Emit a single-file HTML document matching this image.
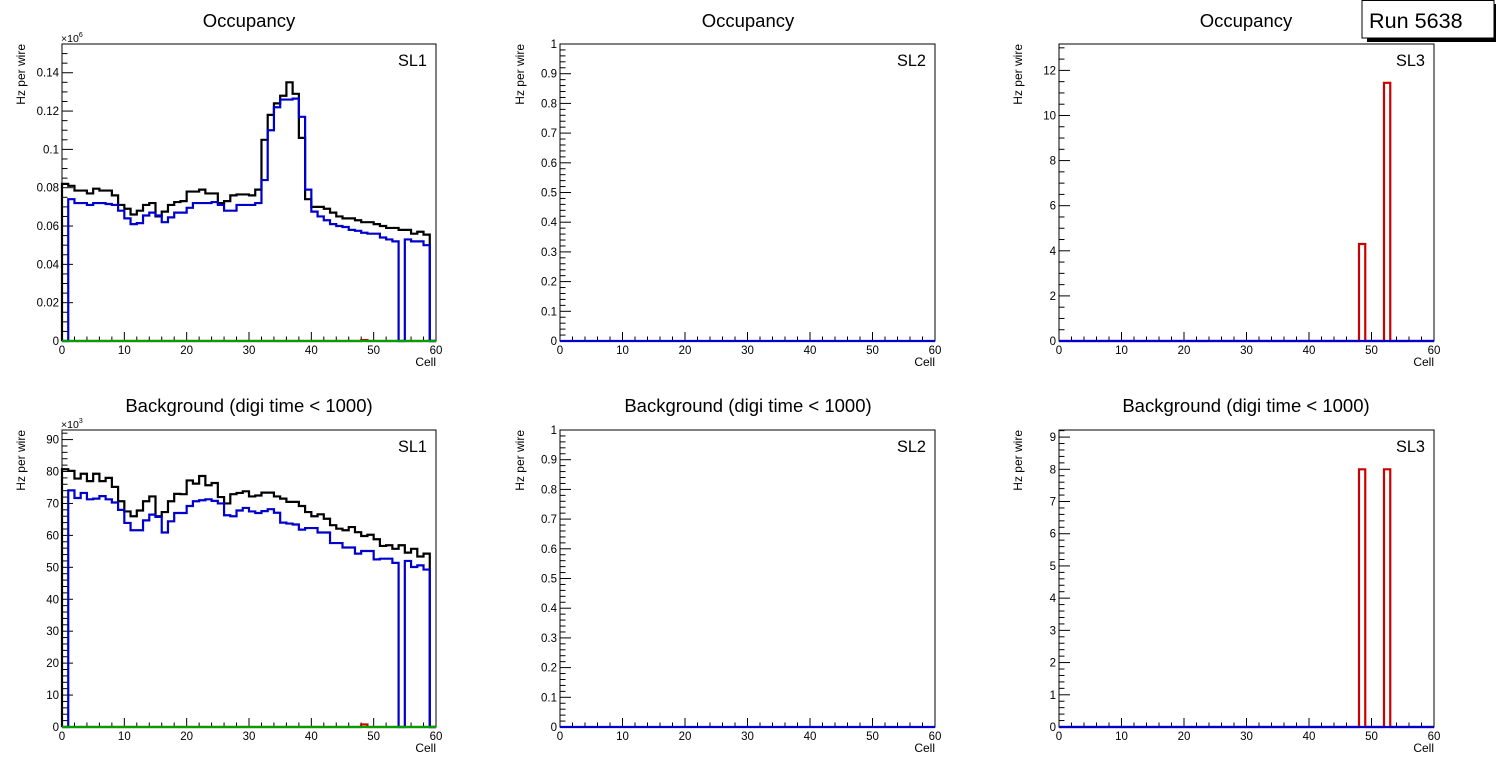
<!DOCTYPE html>
<html><head><meta charset="utf-8"><style>
html,body{margin:0;padding:0;background:#fff;}
svg{display:block;font-family:"Liberation Sans",Arial,sans-serif;}
</style></head><body>
<svg id="c" width="1496" height="772" viewBox="0 0 1496 772" xmlns="http://www.w3.org/2000/svg"></svg>
<script>
// ---- data (60 cells each) ----
const occSL1Black = [82,81,78.5,78.5,77,79.5,78.5,78.5,76,71,69,66,68,71,72,65,67.5,71,72.5,73,78,78,79,77,77,72,73,76,76.5,76.5,76,79,105,118,124,128,135,129,106,74,70,70,69,67,65,64,64,63,62,62,61,60,59,59,58,58,56,57,55.5,0];
const occSL1Blue = [0,74,72,72,71,72,72,71.5,71,68,64,61,61.5,65.5,67,65.5,62,64.5,67,67,69.5,72,72,72,72.5,71,68,68,71,71,71,72,84,110,122,126,126,126.5,117,79,67.5,65,63,61,60,59.5,58,57.5,56.5,56,56,54,53,52,0,53,52,52,50,0];
const occSL1Green = new Array(60).fill(0);
const occSL1Red = [0,0,0,0,0,0,0,0,0,0,0,0,0,0,0,0,0,0,0,0,0,0,0,0,0,0,0,0,0,0,0,0,0,0,0,0,0,0,0,0,0,0,0,0,0,0,0,0,0.5,0,0,0,0,0,0,0,0,0,0,0];
const bkgSL1Black = [80.7,80.2,77.8,79.3,77,79.3,77,78,75.2,70.7,67.5,66,67.8,70.7,72.2,66,67.3,70.7,73,72.9,77.2,76.2,78.6,75.7,76.4,72,70,72.9,73.3,73.8,72.2,72.5,73.4,73.4,72.2,71.5,70.5,70.5,69.2,67.3,66,66.6,65.2,63.2,62.1,61.6,62.6,61,59.8,60.2,58.8,56.7,56.9,55.8,56.9,54.6,55.8,53.4,54.3,0];
const bkgSL1Blue = [0,74.1,71.7,73.3,71.3,71.5,72.3,71.3,70.3,68,63.9,61.6,61.6,64.7,66.5,65.8,60.9,64.4,67,67,69.2,70.7,71,71.3,70.8,70,66.3,66,67.8,68.6,67.5,67,67.6,68.2,67.1,64,63.7,63.4,61.8,62.3,62.3,60.9,60.9,57.6,57.6,56.2,56.2,54.3,55.1,55.1,52.5,52.7,52.7,51.4,0,52,50.1,50.6,49.3,0];
const bkgSL1Green = new Array(60).fill(0);
const bkgSL1Red = [0,0,0,0,0,0,0,0,0,0,0,0,0,0,0,0,0,0,0,0,0,0,0,0,0,0,0,0,0,0,0,0,0,0,0,0,0,0,0,0,0,0,0,0,0,0,0,0,0.8,0,0,0,0,0,0,0,0,0,0,0];
const sl2Blue = new Array(60).fill(0);
const occSL3Red = [0,0,0,0,0,0,0,0,0,0,0,0,0,0,0,0,0,0,0,0,0,0,0,0,0,0,0,0,0,0,0,0,0,0,0,0,0,0,0,0,0,0,0,0,0,0,0,0,4.3,0,0,0,11.45,0,0,0,0,0,0,0];
const bkgSL3Red = [0,0,0,0,0,0,0,0,0,0,0,0,0,0,0,0,0,0,0,0,0,0,0,0,0,0,0,0,0,0,0,0,0,0,0,0,0,0,0,0,0,0,0,0,0,0,0,0,8,0,0,0,8,0,0,0,0,0,0,0];
const sl3Blue = new Array(60).fill(0);
const xTickVals = [0,10,20,30,40,50,60];
const xTickLabels = ["0","10","20","30","40","50","60"];
const occSL1TickVals = [0,20,40,60,80,100,120,140];
const occSL1TickLabels = ["0","0.02","0.04","0.06","0.08","0.1","0.12","0.14"];
const bkgSL1TickVals = [0,10,20,30,40,50,60,70,80,90];
const bkgSL1TickLabels = ["0","10","20","30","40","50","60","70","80","90"];
const sl2TickVals = [0,0.1,0.2,0.3,0.4,0.5,0.6,0.7,0.8,0.9,1];
const sl2TickLabels = ["0","0.1","0.2","0.3","0.4","0.5","0.6","0.7","0.8","0.9","1"];
const occSL3TickVals = [0,2,4,6,8,10,12];
const occSL3TickLabels = ["0","2","4","6","8","10","12"];
const bkgSL3TickVals = [0,1,2,3,4,5,6,7,8,9];
const bkgSL3TickLabels = ["0","1","2","3","4","5","6","7","8","9"];

const NS = "http://www.w3.org/2000/svg";
const svg = document.getElementById('c');
function mk(tag, attrs, parent, text){
  const e = document.createElementNS(NS, tag);
  for (const k in attrs) e.setAttribute(k, attrs[k]);
  if (text !== undefined) e.textContent = text;
  (parent || svg).appendChild(e);
  return e;
}

const COLS = [{x0:62,x1:436,px:0},{x0:560,x1:935,px:499},{x0:1059,x1:1434,px:997}];
const ROWS = [{yt:44,yb:341,py:0,title:"Occupancy",tb:27},{yt:430,yb:727,py:386,title:"Background (digi time < 1000)",tb:412}];

function drawPad(ci, ri, cfg){
  const C = COLS[ci], R = ROWS[ri];
  const g = mk('g', {});
  
  
  const xs = v => C.x0 + v/60*(C.x1-C.x0);
  const ys = v => R.yb - v/cfg.ymax*(R.yb-R.yt);
  const t = mk('text', {x:(C.px+249), y:R.tb, 'text-anchor':'middle', 'font-size':'18.5'}, g, R.title);
  
  
  const fr = mk('rect', {x:C.x0, y:R.yt, width:C.x1-C.x0, height:R.yb-R.yt, fill:'none', stroke:'#000', 'stroke-width':'1'}, g);
  
  
  for (let v=0; v<=60; v+=2){
    const major = v%10===0;
    mk('line', {x1:xs(v), x2:xs(v), y1:R.yb, y2:R.yb-(major?9:4.5), stroke:'#000', 'stroke-width':'1'}, g);
  }
  xTickVals.forEach((v,i) => {
    const l = mk('text', {x:xs(v), y:R.yb+13, 'text-anchor':'middle', 'font-size':'11.5'}, g, xTickLabels[i]);
    
    
  });
  const nMinor = Math.round(cfg.ymax/cfg.minor);
  for (let k=0; k<=nMinor; k++){
    const v = k*cfg.minor;
    if (v > cfg.ymax) break;
    const rem = Math.abs(v/cfg.major - Math.round(v/cfg.major));
    const major = rem < 1e-6;
    mk('line', {x1:C.x0, x2:C.x0+(major?11:5.5), y1:ys(v), y2:ys(v), stroke:'#000', 'stroke-width':'1'}, g);
  }
  cfg.tickVals.forEach((v,i) => {
    const l = mk('text', {x:C.x0-3, y:ys(v)+4, 'text-anchor':'end', 'font-size':'11.5'}, g, cfg.tickLabels[i]);
    
    
  });
  cfg.series.forEach(s => {
    let d = 'M' + xs(0) + ',' + ys(0);
    s.vals.forEach((v,i) => {
      const vv = Math.min(v, cfg.ymax);
      d += ' L' + xs(i) + ',' + ys(vv) + ' L' + xs(i+1) + ',' + ys(vv);
    });
    d += ' L' + xs(60) + ',' + ys(0);
    const p = mk('path', {d:d, fill:'none', stroke:s.color, 'stroke-width':'2.2', 'stroke-linejoin':'miter'}, g);
    
    
  });
  const xt = mk('text', {x:C.x1, y:R.yb+25, 'text-anchor':'end', 'font-size':'12'}, g, 'Cell');
  
  
  const yx = C.px+25;
  const yt = mk('text', {x:yx, y:R.yt, 'text-anchor':'end', 'font-size':'12', transform:'rotate(-90 '+yx+' '+R.yt+')'}, g, 'Hz per wire');
  
  
  const sl = mk('text', {x:C.x1-9, y:R.yt+22, 'text-anchor':'end', 'font-size':'16.3'}, g, cfg.sl);
  
  
  if (cfg.exp){
    const ex = mk('text', {x:C.x0-1, y:R.yt-2, 'font-size':'10.5'}, g);
    
    
    mk('tspan', {}, ex, '\u00d710');
    mk('tspan', {dy:'-5', 'font-size':'7'}, ex, cfg.exp);
  }
}

drawPad(0,0,{name:'pad-occupancy-sl1', ymax:155, major:20, minor:5, tickVals:occSL1TickVals, tickLabels:occSL1TickLabels, sl:'SL1', exp:'6',
  series:[{name:'occ-sl1-red',color:'#cc0000',vals:occSL1Red},{name:'occ-sl1-black',color:'#000',vals:occSL1Black},{name:'occ-sl1-blue',color:'#0000cc',vals:occSL1Blue},{name:'occ-sl1-green',color:'#00a000',vals:occSL1Green}]});
drawPad(1,0,{name:'pad-occupancy-sl2', ymax:1, major:0.1, minor:0.02, tickVals:sl2TickVals, tickLabels:sl2TickLabels, sl:'SL2',
  series:[{name:'occ-sl2-blue',color:'#0000cc',vals:sl2Blue}]});
drawPad(2,0,{name:'pad-occupancy-sl3', ymax:13.17, major:2, minor:0.5, tickVals:occSL3TickVals, tickLabels:occSL3TickLabels, sl:'SL3',
  series:[{name:'occ-sl3-red',color:'#cc0000',vals:occSL3Red},{name:'occ-sl3-blue',color:'#0000cc',vals:sl3Blue}]});
drawPad(0,1,{name:'pad-background-sl1', ymax:93, major:10, minor:2, tickVals:bkgSL1TickVals, tickLabels:bkgSL1TickLabels, sl:'SL1', exp:'3',
  series:[{name:'bkg-sl1-black',color:'#000',vals:bkgSL1Black},{name:'bkg-sl1-blue',color:'#0000cc',vals:bkgSL1Blue},{name:'bkg-sl1-red',color:'#cc0000',vals:bkgSL1Red},{name:'bkg-sl1-green',color:'#00a000',vals:bkgSL1Green}]});
drawPad(1,1,{name:'pad-background-sl2', ymax:1, major:0.1, minor:0.02, tickVals:sl2TickVals, tickLabels:sl2TickLabels, sl:'SL2',
  series:[{name:'bkg-sl2-blue',color:'#0000cc',vals:sl2Blue}]});
drawPad(2,1,{name:'pad-background-sl3', ymax:9.22, major:1, minor:0.2, tickVals:bkgSL3TickVals, tickLabels:bkgSL3TickLabels, sl:'SL3',
  series:[{name:'bkg-sl3-red',color:'#cc0000',vals:bkgSL3Red},{name:'bkg-sl3-blue',color:'#0000cc',vals:sl3Blue}]});

const rb = mk('g', {});


mk('rect', {x:1367, y:4, width:129, height:38, fill:'#000'}, rb);
mk('rect', {x:1362, y:0.5, width:132, height:37.5, fill:'#fff', stroke:'#000', 'stroke-width':'1'}, rb);
mk('text', {x:1369, y:28, 'font-size':'21.6'}, rb, 'Run 5638');
</script>
</body></html>
